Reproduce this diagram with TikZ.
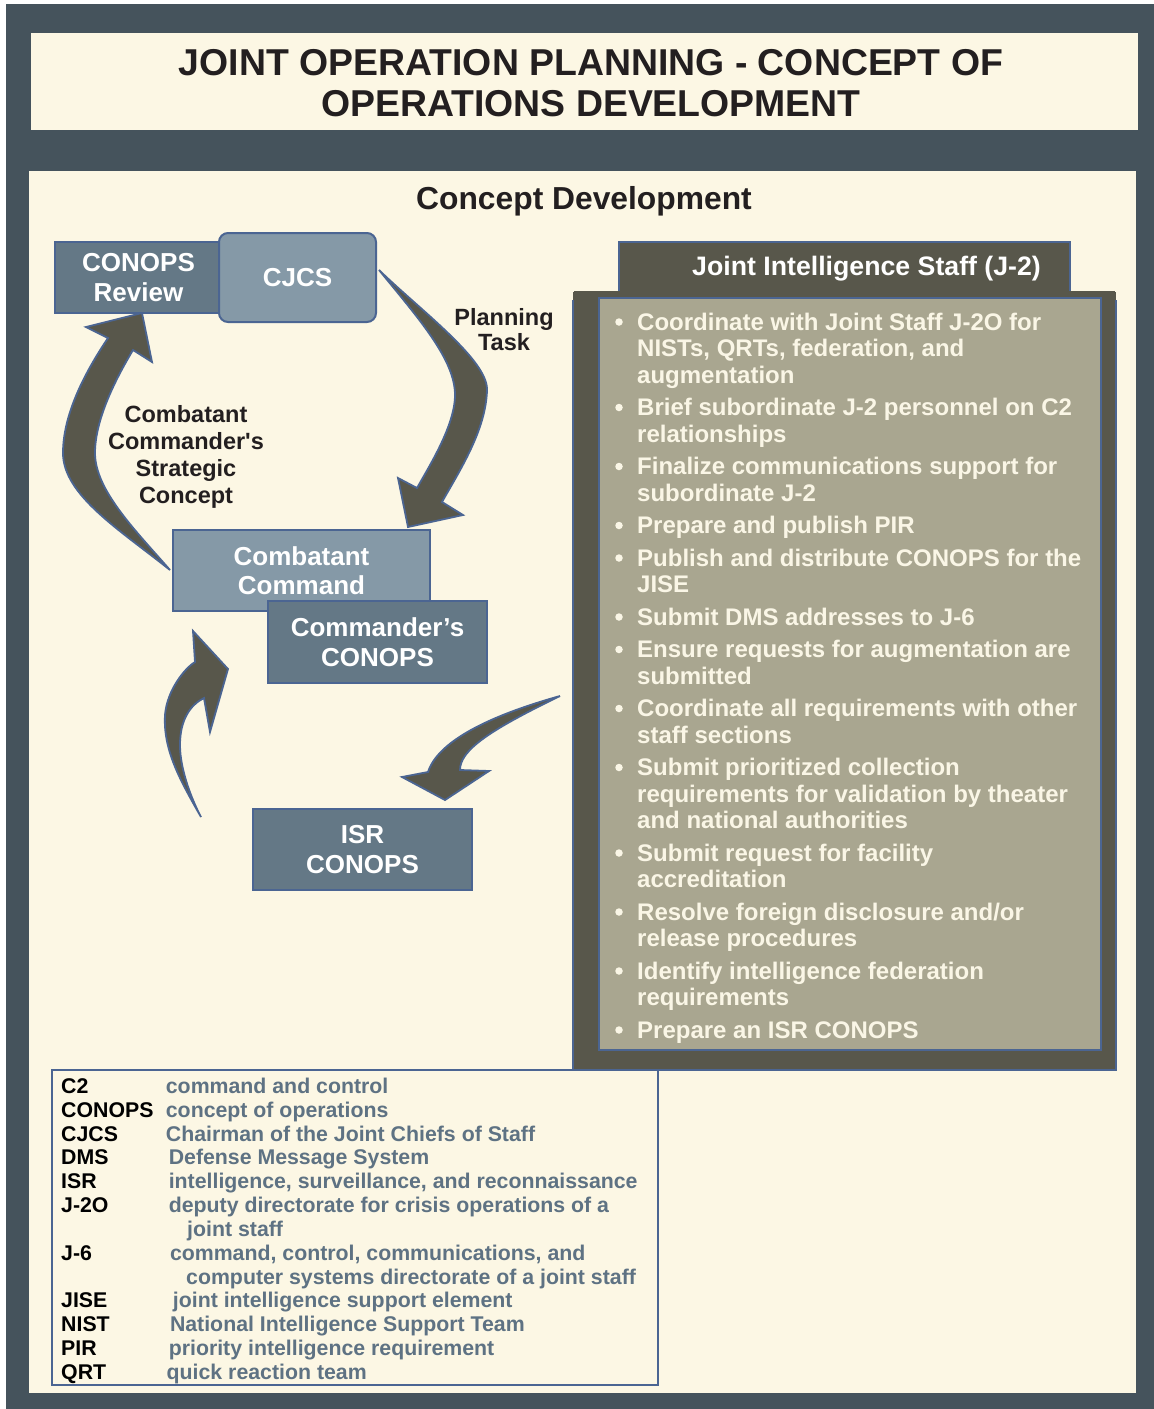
\documentclass[tikz,border=0pt]{standalone}
\usepackage{fontspec}
\setmainfont{Liberation Sans}
\definecolor{bgdark}{HTML}{45535C}
\definecolor{creamc}{HTML}{FCF7E4}
\definecolor{boxdark}{HTML}{647886}
\definecolor{boxlight}{HTML}{8599A7}
\definecolor{edgeblue}{HTML}{4B6592}
\definecolor{arrowfill}{HTML}{58574B}
\definecolor{khaki}{HTML}{A9A690}
\definecolor{bulltext}{HTML}{FAF6E6}
\definecolor{defcol}{HTML}{5E7283}
\definecolor{ink}{HTML}{231F20}
\begin{document}
\begin{tikzpicture}[x=1pt,y=-1pt,
  box/.style={draw=edgeblue,line width=2pt,text=white,align=center,inner sep=0pt,
    font=\bfseries\fontsize{26}{29.5}\selectfont},
  darkbox/.style={box,fill=boxdark},
  lightbox/.style={box,fill=boxlight},
  blockarrow/.style={fill=arrowfill,draw=edgeblue,line width=1.8pt,line join=miter},
  lbl/.style={font=\bfseries\fontsize{23.5}{24.5}\selectfont,text=ink,align=center,inner sep=0pt},
  bul/.style={font=\bfseries\fontsize{24}{26.5}\selectfont,text=bulltext,anchor=base west,inner sep=0pt},
  dotmark/.style={circle,fill=bulltext,inner sep=0pt,minimum size=7.5pt},
  abbr/.style={font=\bfseries\fontsize{21.3}{24}\selectfont,text=black,anchor=base west,inner sep=0pt},
  defn/.style={abbr,text=defcol}
]
\useasboundingbox (0,0) rectangle (1154,1409);
\fill[white] (0,0) rectangle (1154,1409);
\fill[bgdark] (6,4) rectangle (1154,1409);
\fill[creamc] (31,33) rectangle (1138,130);
\fill[creamc] (29,171) rectangle (1136,1393);

% titles
\node[font=\bfseries\fontsize{37.4}{41}\selectfont,text=ink,align=center,inner sep=0pt] (title) at (591,83)
  {JOINT OPERATION PLANNING - CONCEPT OF\\OPERATIONS DEVELOPMENT};
\node[font=\bfseries\fontsize{31.8}{36}\selectfont,text=ink,anchor=base,inner sep=0pt] (concdev) at (584,209) {Concept Development};

% block arrows
% Planning Task arrow (CJCS -> Combatant Command)
\filldraw[blockarrow] (379,270) .. controls (420,310) and (488,360) .. (487,390)
  .. controls (486,430) and (460,470) .. (442,502) -- (463,515) -- (408,527) -- (398,478) -- (417,488)
  .. controls (430,465) and (455,425) .. (455,395) .. controls (455,360) and (420,320) .. cycle;
% Strategic concept arrow (Combatant Command -> CONOPS Review)
\filldraw[blockarrow] (170,570) .. controls (120,530) and (63,495) .. (63,453)
  .. controls (63,410) and (90,365) .. (108,338) -- (86,327) -- (142,313) -- (152,362) -- (133,350)
  .. controls (115,380) and (95,420) .. (95,453) .. controls (95,490) and (135,530) .. cycle;
% ISR CONOPS -> Commander's CONOPS
\filldraw[blockarrow] (201,817) .. controls (180,780) and (163,750) .. (165,715)
  .. controls (167,690) and (185,668) .. (195,662) -- (193,631) -- (228,669) -- (210,732) -- (204,698)
  .. controls (190,705) and (180,720) .. (180,745) .. controls (180,770) and (192,800) .. cycle;
% J-2 -> ISR CONOPS
\filldraw[blockarrow] (560,696) .. controls (510,710) and (440,735) .. (428,772) -- (402,777)
  -- (445,800) -- (489,771) -- (460,770) .. controls (460,750) and (490,730) .. cycle;

% left boxes
\node[darkbox,minimum width=167pt,minimum height=71pt] (review) at (138.5,277.5) {CONOPS\\Review};
\node[lightbox,rounded corners=9pt,minimum width=157pt,minimum height=89pt] (cjcs) at (297.5,277.5) {CJCS};
\node[lightbox,minimum width=257pt,minimum height=81pt] (ccmd) at (301.5,570.5) {Combatant\\Command};
\node[darkbox,minimum width=219pt,minimum height=82pt] (cconops) at (377.5,642) {Commander’s\\CONOPS};
\node[darkbox,minimum width=219pt,minimum height=81pt] (isr) at (362.5,849.5) {ISR\\CONOPS};

% arrow labels
\node[lbl] (plan) at (504,329.5) {Planning\\Task};
\node[lbl,font=\bfseries\fontsize{23.5}{27}\selectfont] (strat) at (186,456.5)
  {Combatant\\Commander\textquotesingle s\\Strategic\\Concept};

% legend
\node[draw=edgeblue,line width=2pt,fill=creamc,minimum width=606pt,minimum height=315pt,inner sep=0pt] (legend) at (355,1227.5) {};

% J-2 panel
\fill[arrowfill] (573,292) rectangle (1116,1070);
\draw[edgeblue,line width=1.5pt] (573,300) -- (573,1070) -- (1116,1070) -- (1116,300);
\node[draw=edgeblue,line width=1.5pt,fill=arrowfill,minimum width=451pt,minimum height=50pt,inner sep=0pt] (j2head) at (844.5,267) {};
\fill[arrowfill] (574,291) rectangle (1115,299);
\node[font=\bfseries\fontsize{26.7}{30}\selectfont,text=white,anchor=base west,inner sep=0pt] (j2title) at (692,275) {Joint Intelligence Staff (J-2)};
\node[draw=edgeblue,line width=2pt,fill=khaki,minimum width=502pt,minimum height=752pt,inner sep=0pt] (j2list) at (850,674) {};

\foreach \yy [count=\i] in {330,415.5,474.5,533.5,566,625,657.5,716.5,775.5,861,920,979,1038}
  \node[dotmark] (dot\i) at (619,{\yy-8}) {};

\foreach \yy/\tt [count=\i] in {
  330/{Coordinate with Joint Staff J-2O for},
  356.5/{NISTs, QRTs, federation, and},
  383/{augmentation},
  415.5/{Brief subordinate J-2 personnel on C2},
  442/{relationships},
  474.5/{Finalize communications support for},
  501/{subordinate J-2},
  533.5/{Prepare and publish PIR},
  566/{Publish and distribute CONOPS for the},
  592.5/{JISE},
  625/{Submit DMS addresses to J-6},
  657.5/{Ensure requests for augmentation are},
  684/{submitted},
  716.5/{Coordinate all requirements with other},
  743/{staff sections},
  775.5/{Submit prioritized collection},
  802/{requirements for validation by theater},
  828.5/{and national authorities},
  861/{Submit request for facility},
  887.5/{accreditation},
  920/{Resolve foreign disclosure and/or},
  946.5/{release procedures},
  979/{Identify intelligence federation},
  1005.5/{requirements},
  1038/{Prepare an ISR CONOPS}}
  \node[bul] (line\i) at (637,\yy) {\tt};

% legend entries
\foreach \yy/\ab [count=\i] in {1093.3/C2,1117.1/CONOPS,1141/CJCS,1164.8/DMS,1188.6/ISR,1212.5/J-2O,1260.1/J-6,1307.8/JISE,1331.6/NIST,1355.5/PIR,1379.3/QRT}
  \node[abbr] (ab\i) at (61,\yy) {\ab};

\foreach \yy/\xx/\tt [count=\i] in {
  1093.3/165.7/{command and control},
  1117.1/165.7/{concept of operations},
  1141/165.7/{Chairman of the Joint Chiefs of Staff},
  1164.8/168.6/{Defense Message System},
  1188.6/168.6/{intelligence, surveillance, and reconnaissance},
  1212.5/168.6/{deputy directorate for crisis operations of a},
  1236.3/187/{joint staff},
  1260.1/169.8/{command, control, communications, and},
  1284/186/{computer systems directorate of a joint staff},
  1307.8/172.7/{joint intelligence support element},
  1331.6/169.8/{National Intelligence Support Team},
  1355.5/168.6/{priority intelligence requirement},
  1379.3/166.5/{quick reaction team}}
  \node[defn] (def\i) at (\xx,\yy) {\tt};
\end{tikzpicture}
\end{document}
